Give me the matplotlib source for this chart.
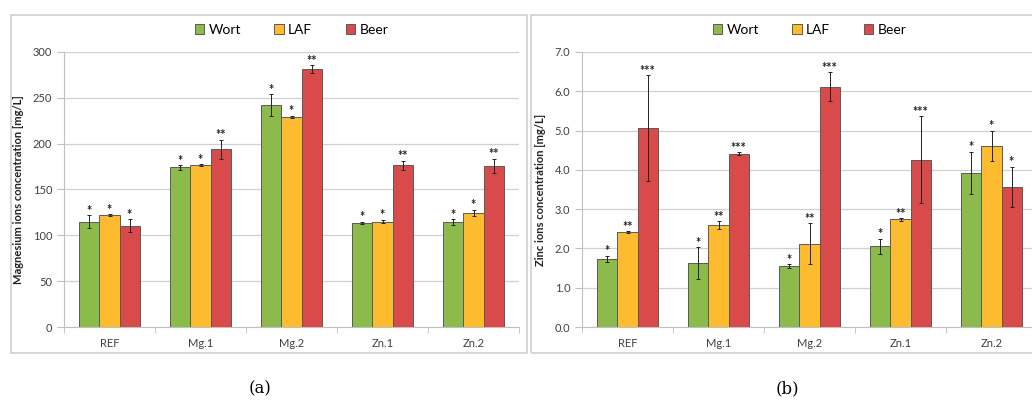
import numpy as np
import matplotlib.pyplot as plt
from matplotlib.patches import Rectangle

plt.rcParams['font.family'] = ['Lato', 'DejaVu Sans']

groups = ['REF', 'Mg.1', 'Mg.2', 'Zn.1', 'Zn.2']
series = ['Wort', 'LAF', 'Beer']
colors = ['#8cbb4b', '#fdbb30', '#d94b4b']

# magnesium, mg/L
mg_wort = [115, 174, 242, 113.5, 114.5]
mg_laf = [122, 176.5, 229.5, 115, 124.5]
mg_beer = [110.5, 194, 281.5, 176.5, 175.5]
mg_wort_err = [7, 2.5, 12, 1.5, 3]
mg_laf_err = [1, 1, 1, 2, 3.5]
mg_beer_err = [7, 10.5, 4, 5, 8]
mg_stars = [['*', '*', '*', '*', '*'], ['*', '*', '*', '*', '*'], ['*', '**', '**', '**', '**']]

# zinc, mg/L
zn_wort = [1.74, 1.63, 1.55, 2.05, 3.92]
zn_laf = [2.41, 2.59, 2.12, 2.74, 4.61]
zn_beer = [5.06, 4.41, 6.11, 4.26, 3.57]
zn_wort_err = [0.08, 0.4, 0.05, 0.2, 0.54]
zn_laf_err = [0.03, 0.1, 0.52, 0.03, 0.39]
zn_beer_err = [1.35, 0.04, 0.37, 1.1, 0.51]
zn_stars = [['*', '*', '*', '*', '*'], ['**', '**', '**', '**', '*'], ['***', '***', '***', '***', '*']]


def panel(ax, vals, errs, stars, ymax, step, fmt, ylabel):
    x = np.arange(len(groups))
    w = 0.22
    for i in range(3):
        xs = x + (i - 1) * w
        ax.bar(xs, vals[i], w, color=colors[i], edgecolor='#5a5a5a', linewidth=0.7,
               label=series[i], zorder=3)
        ax.errorbar(xs, vals[i], yerr=errs[i], fmt='none', ecolor='#222222',
                    elinewidth=0.7, capsize=1.5, capthick=0.7, zorder=4)
        for xx, v, e, s in zip(xs, vals[i], errs[i], stars[i]):
            ax.text(xx, v + e - ymax * 0.006, s, ha='center', va='bottom',
                    fontsize=9, fontweight='bold', color='#222222', zorder=5)
    ax.set_xlim(-0.5, len(groups) - 0.5)
    ax.set_ylim(0, ymax)
    ticks = np.arange(0, ymax + step / 2, step)
    ax.set_yticks(ticks)
    ax.set_yticklabels([fmt.format(t) for t in ticks])
    ax.set_xticks(x)
    ax.set_xticklabels(groups)
    ax.set_xticks(np.arange(-0.5, len(groups)), minor=True)
    ax.tick_params(axis='x', which='major', length=0, labelsize=8, colors='#404040', pad=8)
    ax.tick_params(axis='x', which='minor', length=4, color='#c0c0c0')
    ax.tick_params(axis='y', length=5, color='#c0c0c0', labelsize=8, labelcolor='#404040')
    ax.yaxis.grid(True, color='#d0d0d0', linewidth=0.9, zorder=0)
    ax.set_axisbelow(True)
    for s in ['top', 'right']:
        ax.spines[s].set_visible(False)
    ax.spines['left'].set_color('#c0c0c0')
    ax.spines['bottom'].set_color('#c0c0c0')
    ax.set_ylabel(ylabel, fontsize=8, fontweight='bold', color='#222222', labelpad=6)
    ax.legend(loc='lower center', bbox_to_anchor=(0.5, 1.012), ncol=3, frameon=False,
              fontsize=10, handlelength=0.7, handleheight=0.7, columnspacing=2.4,
              handletextpad=0.3)


fig = plt.figure(figsize=(10.32, 4.01), dpi=100)
W, H = 1032, 401
ax1 = fig.add_axes([64 / W, 1 - 327 / H, 455 / W, 275 / H])
ax2 = fig.add_axes([582 / W, 1 - 327 / H, 455 / W, 275 / H])

panel(ax1, [mg_wort, mg_laf, mg_beer], [mg_wort_err, mg_laf_err, mg_beer_err], mg_stars,
      300, 50, '{:.0f}', 'Magnesium ions concentration [mg/L]')
panel(ax2, [zn_wort, zn_laf, zn_beer], [zn_wort_err, zn_laf_err, zn_beer_err], zn_stars,
      7, 1, '{:.1f}', 'Zinc ions concentration [mg/L]')

# panel frames
for x0, x1 in [(11, 527), (531, 1045)]:
    fig.patches.append(Rectangle((x0 / W, 1 - 353 / H), (x1 - x0) / W, 338 / H,
                                 transform=fig.transFigure, fill=False,
                                 edgecolor='#cfcfcf', linewidth=1.2))

fig.text(260 / W, 1 - 389 / H, '(a)', ha='center', va='center', fontsize=12,
         family='DejaVu Serif')
fig.text(787 / W, 1 - 389 / H, '(b)', ha='center', va='center', fontsize=12,
         family='DejaVu Serif')

fig.savefig('out.png', dpi=100)
